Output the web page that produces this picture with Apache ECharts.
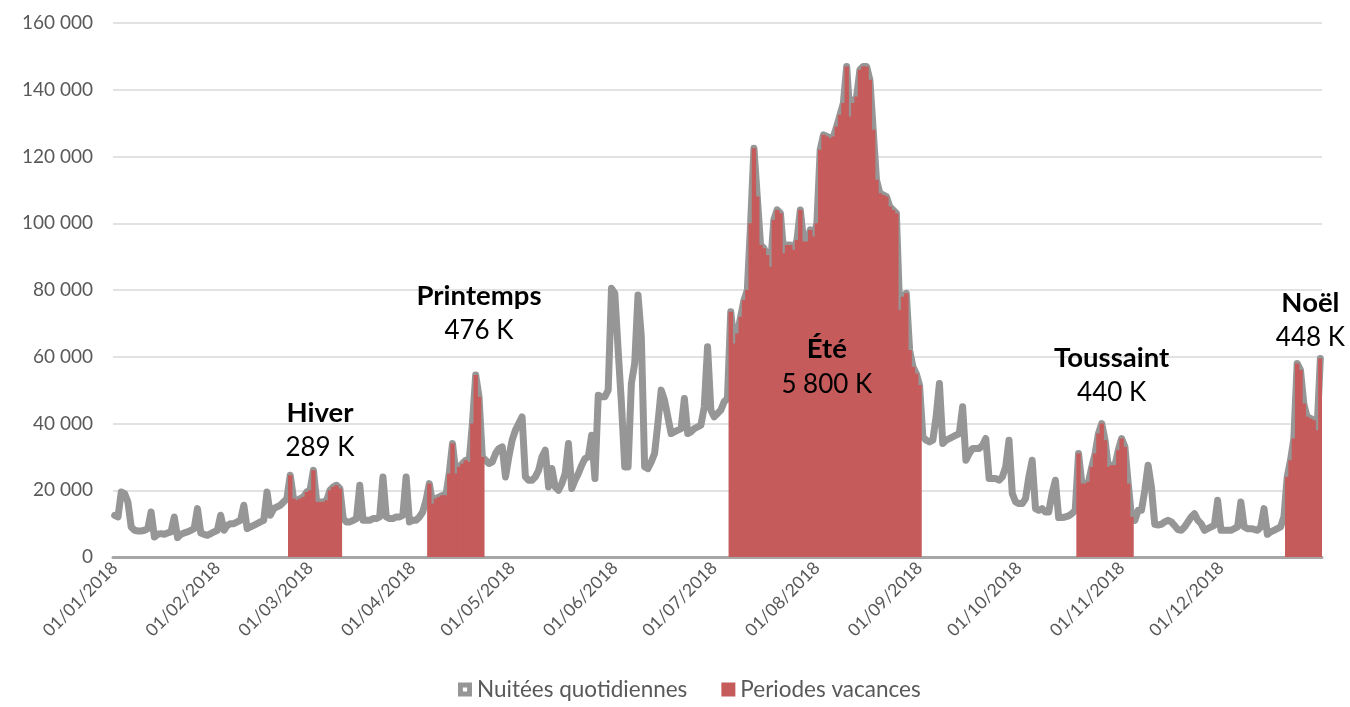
<!DOCTYPE html>
<html lang="fr">
<head>
<meta charset="utf-8">
<title>Nuitées quotidiennes 2018</title>
<script src="https://cdn.jsdelivr.net/npm/echarts@6/dist/echarts.min.js"></script>
<style>
  html, body { margin: 0; padding: 0; background: #fff; }
  #chart { width: 1350px; height: 707px; }
</style>
</head>
<body>
<div id="chart"></div>
<script>
// nuitées par jour en 2018 (un tableau par mois)
var janvier = [12500, 12000, 19500, 19000, 16500, 9000, 8000, 7800, 7800, 8000, 8500, 13500, 6000, 6800, 7000, 6800,
  7200, 7500, 12000, 5800, 6800, 7200, 7500, 8000, 8500, 14500, 7200, 6800, 6500, 7000, 7500];
var fevrier = [8000, 12500, 8000, 9500, 10000, 10000, 10500, 11000, 15500, 8500, 9000, 9500, 10000, 10500,
  11000, 19500, 12500, 14500, 15000, 15500, 16500, 17500, 24500, 17500, 17000, 17500, 18000, 19500];
var mars = [20000, 26000, 16500, 16500, 16500, 17000, 20000, 21000, 21500, 20500, 11500, 10500, 10500, 11000,
  11500, 21500, 11000, 11000, 11000, 11500, 11500, 12000, 24000, 12000, 11500, 11500, 12000, 12000, 12500, 24000, 10500];
var avril = [11000, 11000, 12000, 13500, 17000, 22000, 16000, 17500, 18000, 18500, 18500, 25000, 34000, 25000,
  27000, 28000, 29000, 28500, 40000, 54500, 48000, 30000, 29000, 28000, 28500, 31000, 32500, 33000, 24000, 30000];
var mai = [35000, 38000, 40000, 42000, 24000, 23000, 23000, 24000, 26000, 30000, 32000, 21000, 26500, 21000,
  20000, 22000, 25000, 34000, 20500, 23000, 25000, 27500, 29500, 30000, 36500, 23500, 48500, 48000, 48000, 50000, 80500];
var juin = [79000, 62000, 46000, 27000, 27000, 52000, 58000, 78500, 66000, 27000, 26500, 28500, 31000, 40000,
  50000, 47000, 42000, 37000, 37500, 38000, 38500, 47500, 37000, 37500, 38500, 39000, 39500, 45000, 63000, 44000];
var juillet = [42000, 43000, 44000, 46500, 47500, 73500, 64000, 67000, 72000, 77000, 80000, 100000, 122500,
  108000, 93500, 92500, 90500, 87000, 101000, 104000, 103000, 91000, 93500, 93500, 92000, 95000, 104000, 94500,
  94500, 98000, 96000];
var aout = [100000, 122000, 126500, 126000, 125500, 126000, 129000, 132500, 136000, 147000, 132000, 136000,
  138000, 146000, 147000, 147000, 143000, 128000, 113000, 109000, 108500, 108000, 105000, 104000, 103000, 74000,
  78000, 79000, 62000, 57000, 55000];
var septembre = [51500, 36000, 35000, 34500, 35000, 42000, 52000, 34000, 35000, 35500, 36000, 36500, 37000,
  45000, 29000, 31000, 32500, 32500, 32500, 33500, 35500, 23500, 23500, 23500, 23000, 24000, 27000, 35000, 19000, 16500];
var octobre = [16000, 16000, 17500, 24000, 29000, 14500, 14000, 14500, 13500, 13500, 19000, 23000, 11800, 11800,
  12000, 12300, 13000, 14000, 31000, 22000, 22000, 22500, 27000, 31000, 37000, 40000, 35000, 27000, 27500, 27500, 32000];
var novembre = [35500, 33000, 22000, 12000, 11000, 14000, 14000, 20000, 27500, 21000, 9800, 9600, 9800, 10500,
  11000, 10500, 9400, 8200, 8000, 9000, 10500, 12000, 13000, 11000, 10000, 8000, 8500, 9000, 9500, 17000];
var decembre = [8000, 8000, 8000, 8000, 8500, 9000, 16500, 9000, 8500, 8500, 8300, 8000, 9000, 14500, 6800, 7500,
  8000, 8500, 9000, 12000, 24000, 29000, 35500, 58000, 56000, 46000, 42000, 41500, 41000, 38000, 59500];

// périodes de vacances : premier et dernier jour (indice, 0 = 01/01/2018)
var vacancesDebut = [53, 95, 186, 291, 354];
var vacancesFin = [68, 111, 243, 307, 364];
var vacancesNoms = ['Hiver', 'Printemps', 'Été', 'Toussaint', 'Noël'];
var vacancesTotaux = ['289 K', '476 K', '5 800 K', '440 K', '448 K'];

// où poser chaque étiquette (jour, valeur)
var etiquettes = [[62, 38000], [110, 73000], [215, 57000], [301, 54400], [361, 70900]];

var FONT = 'Lato, "Noto Sans", sans-serif';
var GRIS = '#969696';
var ROUGE = '#C65B5B';

function pad(n) { return n < 10 ? '0' + n : '' + n; }

var nuitees = [].concat(janvier, fevrier, mars, avril, mai, juin, juillet, aout, septembre, octobre, novembre, decembre);

var jours = [];
for (var i = 0; i < nuitees.length; i++) {
  var d = new Date(Date.UTC(2018, 0, 1 + i));
  jours.push(pad(d.getUTCDate()) + '/' + pad(d.getUTCMonth() + 1) + '/' + d.getUTCFullYear());
}

var vacances = nuitees.map(function (v, i) {
  for (var k = 0; k < vacancesDebut.length; k++) {
    if (i >= vacancesDebut[k] && i <= vacancesFin[k]) return v;
  }
  return '-';
});

function milliers(v) {
  return String(v).replace(/\B(?=(\d{3})+(?!\d))/g, ' ');
}

var chart = echarts.init(document.getElementById('chart'), null, { renderer: 'canvas' });

chart.setOption({
  animation: false,
  backgroundColor: '#ffffff',
  textStyle: { fontFamily: FONT },
  grid: { left: 113, right: 28, top: 23, bottom: 150 },
  legend: {
    bottom: 1,
    left: 453,
    itemWidth: 14,
    itemHeight: 14,
    itemGap: 34,
    textStyle: { fontSize: 22.5, color: '#595959', fontFamily: FONT },
    data: [
      { name: 'Nuitées quotidiennes', icon: 'path://M0,0H10V10H0Z M3.5,3.5V6.5H6.5V3.5Z' },
      { name: 'Periodes vacances', icon: 'rect' }
    ]
  },
  xAxis: {
    type: 'category',
    data: jours,
    boundaryGap: true,
    axisLine: { lineStyle: { color: '#a6a6a6', width: 3 } },
    axisTick: { show: false },
    splitLine: { show: false },
    axisLabel: {
      interval: function (idx, val) { return val.slice(0, 3) === '01/'; },
      rotate: 45,
      fontSize: 17.5,
      color: '#595959',
      margin: 8,
      fontFamily: FONT
    }
  },
  yAxis: {
    type: 'value',
    min: 0,
    max: 160000,
    interval: 20000,
    axisLine: { show: false },
    axisTick: { show: false },
    splitLine: { lineStyle: { color: '#d9d9d9', width: 1.5 } },
    axisLabel: { fontSize: 19, color: '#595959', margin: 20, formatter: milliers, fontFamily: FONT }
  },
  series: [
    {
      name: 'Nuitées quotidiennes',
      type: 'line',
      data: nuitees,
      z: 2,
      showSymbol: false,
      itemStyle: { color: GRIS },
      lineStyle: { color: GRIS, width: 7, join: 'round', cap: 'round' }
    },
    {
      name: 'Periodes vacances',
      type: 'bar',
      data: vacances,
      z: 3,
      barWidth: 4.4,
      itemStyle: { color: ROUGE },
      markPoint: {
        symbol: 'circle',
        symbolSize: 1,
        itemStyle: { color: 'rgba(0,0,0,0)' },
        label: {
          show: true,
          position: 'inside',
          formatter: function (p) {
            return '{n|' + p.name + '}\n{t|' + vacancesTotaux[p.dataIndex] + '}';
          },
          rich: {
            n: { fontSize: 27.5, fontWeight: 'bold', color: '#000', lineHeight: 35, fontFamily: FONT },
            t: { fontSize: 26, color: '#000', lineHeight: 35, fontFamily: FONT }
          }
        },
        data: vacancesNoms.map(function (n, k) {
          return { name: n, coord: [jours[etiquettes[k][0]], etiquettes[k][1]] };
        })
      }
    }
  ]
});

window.addEventListener('resize', function () { chart.resize(); });
</script>
</body>
</html>
